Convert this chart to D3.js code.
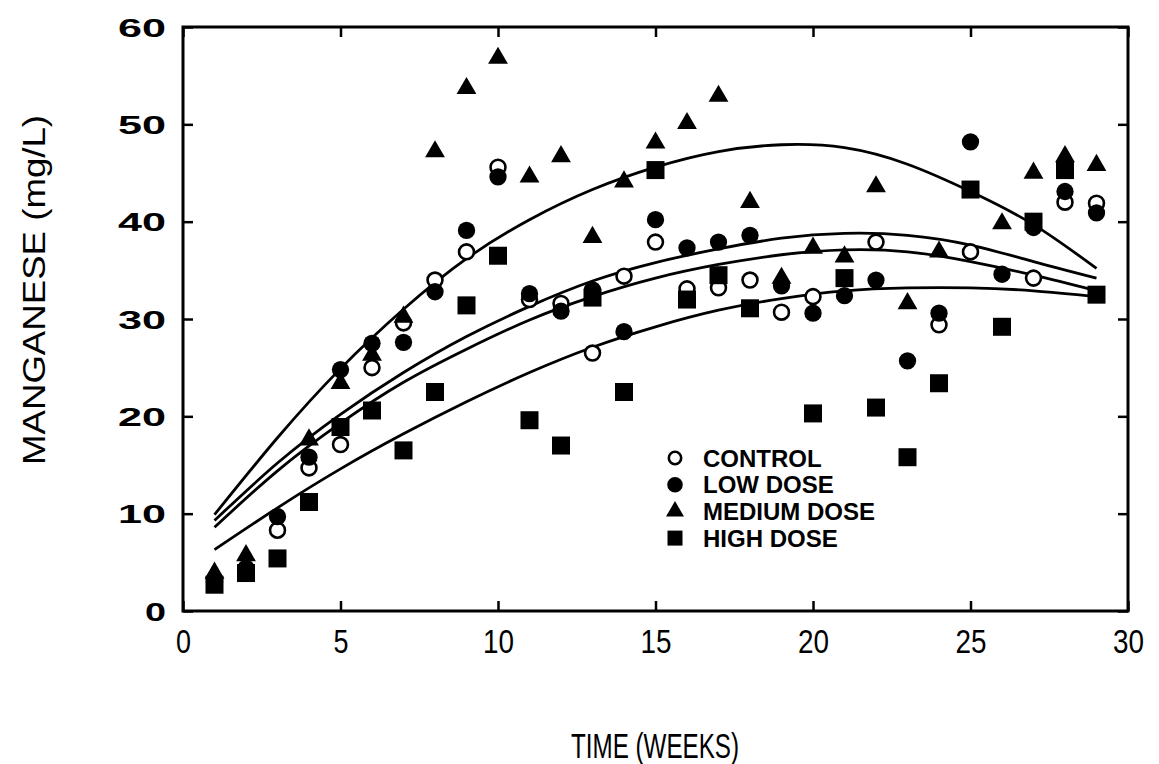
<!DOCTYPE html>
<meta charset="utf-8">
<style>

    body {
        margin: 0;
        background: #fff;
    }

    text {
        fill: #000;
        font-family: "Liberation Sans", Arial, sans-serif;
    }

    .axis path {
        display: none;
    }

    .axis line {
        stroke: #000;
        stroke-width: 2.5;
    }

    .frame {
        fill: none;
        stroke: #000;
        stroke-width: 3;
    }

    path.fit {
        fill: none;
        stroke: #000;
        stroke-width: 2.8;
    }

</style>
<body>
<script src="https://d3js.org/d3.v7.min.js"></script>
<script>
    var weeks = [1, 2, 3, 4, 5, 6, 7, 8, 9, 10, 11, 12, 13, 14, 15, 16, 17, 18, 19, 20, 21, 22, 23, 24, 25, 26, 27, 28, 29];

    // measured manganese, null where the marker is not visible
    var control = [3.0, 4.3, 8.3, 14.7, 17.1, 25.0, 29.6, 34.0, 36.9, 45.6, 32.0, 31.6, 26.5, 34.4, 37.9, 33.1, 33.2, 34.0, 30.7, 32.3, null, 37.9, null, 29.4, 36.9, null, 34.2, 42.0, 41.9];
    var lowDose = [3.2, 4.4, 9.7, 15.8, 24.8, 27.5, 27.6, 32.8, 39.1, 44.6, 32.6, 30.8, 33.0, 28.7, 40.2, 37.3, 37.9, 38.6, 33.4, 30.6, 32.4, 34.0, 25.7, 30.6, 48.2, 34.6, 39.4, 43.1, 40.9];
    var mediumDose = [3.9, 5.7, null, 17.6, 23.4, 26.3, 30.2, 47.2, 53.7, 56.8, 44.6, 46.7, 38.4, 44.1, 48.1, 50.1, 52.9, 42.0, 34.2, 37.3, 36.4, 43.6, 31.6, 36.9, null, 39.8, 45.0, 46.7, 45.8];
    var highDose = [2.7, 3.9, 5.4, 11.2, 18.9, 20.6, 16.5, 22.5, 31.4, 36.5, 19.6, 17.0, 32.2, 22.5, 45.3, 32.0, 34.5, 31.1, null, 20.3, 34.2, 20.9, 15.8, 23.4, 43.3, 29.2, 40.0, 45.3, 32.5];

    // fitted curves
    var fitWeeks = [1, 3, 5, 7, 9, 11, 13, 15, 17, 19, 21, 23, 25, 27, 29];
    var fitControl = [8.6, 14.4, 19.3, 23.5, 26.9, 29.9, 32.3, 34.2, 35.6, 36.6, 37.1, 36.9, 35.9, 34.5, 32.9];
    var fitLow = [9.3, 15.2, 20.2, 24.5, 28.2, 31.3, 33.9, 35.8, 37.2, 38.3, 38.8, 38.6, 37.6, 35.9, 34.2];
    var fitMedium = [9.9, 17.8, 24.9, 31.0, 36.2, 40.2, 43.3, 45.6, 47.2, 47.9, 47.6, 45.9, 43.1, 39.7, 35.2];
    var fitHigh = [6.3, 10.6, 14.6, 18.2, 21.5, 24.5, 27.1, 29.2, 30.9, 32.1, 32.9, 33.2, 33.2, 32.9, 32.3];

    var xTicks = [0, 5, 10, 15, 20, 25, 30];
    var yTicks = [0, 10, 20, 30, 40, 50, 60];
    var legendLabels = ["CONTROL", "LOW DOSE", "MEDIUM DOSE", "HIGH DOSE"];

    var width = 1159,
        height = 764;

    var x = d3.scaleLinear()
            .domain([0, 30])
            .range([183, 1128]);
    var y = d3.scaleLinear()
            .domain([0, 60])
            .range([611, 27]);

    var svg = d3.select("body").append("svg")
            .attr("width", width)
            .attr("height", height);

    // inward ticks on all four sides
    var bottomAxis = svg.append("g")
            .attr("class", "axis")
            .attr("transform", "translate(0," + y(0) + ")")
            .call(d3.axisBottom(x).tickValues(xTicks).tickSizeInner(-10).tickSizeOuter(0).tickPadding(0));
    bottomAxis.selectAll("text")
            .attr("y", 42)
            .attr("dy", null)
            .style("font-size", "34px")
            .each(function(d) {
                d3.select(this)
                        .attr("textLength", String(d).length > 1 ? 31 : 15)
                        .attr("lengthAdjust", "spacingAndGlyphs");
            });

    svg.append("g")
            .attr("class", "axis")
            .attr("transform", "translate(0," + y(60) + ")")
            .call(d3.axisTop(x).tickValues(xTicks).tickSizeInner(-10).tickSizeOuter(0).tickFormat(""));

    var leftAxis = svg.append("g")
            .attr("class", "axis")
            .attr("transform", "translate(" + x(0) + ",0)")
            .call(d3.axisLeft(y).tickValues(yTicks).tickSizeInner(-10).tickSizeOuter(0).tickPadding(17));
    leftAxis.selectAll("text")
            .attr("dy", "0.36em")
            .style("font-size", "25px")
            .style("font-weight", "bold")
            .each(function(d) {
                d3.select(this)
                        .attr("textLength", String(d).length > 1 ? 48 : 21)
                        .attr("lengthAdjust", "spacingAndGlyphs");
            });

    svg.append("g")
            .attr("class", "axis")
            .attr("transform", "translate(" + x(30) + ",0)")
            .call(d3.axisRight(y).tickValues(yTicks).tickSizeInner(-10).tickSizeOuter(0).tickFormat(""));

    svg.append("rect")
            .attr("class", "frame")
            .attr("x", x(0))
            .attr("y", y(60))
            .attr("width", x(30) - x(0))
            .attr("height", y(0) - y(60));

    svg.append("text")
            .attr("x", 655)
            .attr("y", 758)
            .attr("text-anchor", "middle")
            .attr("textLength", 168)
            .attr("lengthAdjust", "spacingAndGlyphs")
            .style("font-size", "35px")
            .text("TIME (WEEKS)");

    svg.append("text")
            .attr("transform", "translate(45,290) rotate(-90)")
            .attr("text-anchor", "middle")
            .attr("textLength", 350)
            .attr("lengthAdjust", "spacingAndGlyphs")
            .style("font-size", "31px")
            .text("MANGANESE (mg/L)");

    // fitted curves
    var line = d3.line()
            .x(function(d) { return x(d[0]); })
            .y(function(d) { return y(d[1]); })
            .curve(d3.curveNatural);

    [fitControl, fitLow, fitMedium, fitHigh].forEach(function(fit) {
        svg.append("path")
                .attr("class", "fit")
                .attr("d", line(fitWeeks.map(function(w, i) { return [w, fit[i]]; })));
    });

    // markers
    var series = [
        {name: "control", values: control, symbol: d3.symbolCircle, size: 175, fill: "#fff", stroke: 2.6},
        {name: "low", values: lowDose, symbol: d3.symbolCircle, size: 235, fill: "#000", stroke: 0},
        {name: "medium", values: mediumDose, symbol: d3.symbolTriangle, size: 170, fill: "#000", stroke: 0},
        {name: "high", values: highDose, symbol: d3.symbolSquare, size: 324, fill: "#000", stroke: 0}
    ];

    series.forEach(function(s) {
        var pts = weeks.map(function(w, i) { return [w, s.values[i]]; })
                .filter(function(d) { return d[1] !== null; });
        svg.append("g")
                .attr("class", "marks " + s.name)
            .selectAll("path")
                .data(pts)
            .enter().append("path")
                .attr("transform", function(d) { return "translate(" + x(d[0]) + "," + y(d[1]) + ")"; })
                .attr("d", d3.symbol().type(s.symbol).size(s.size))
                .attr("fill", s.fill)
                .attr("stroke", "#000")
                .attr("stroke-width", s.stroke);
    });

    // legend
    var legendSizes = [120, 190, 140, 225];
    var legend = svg.append("g")
            .attr("class", "legend")
            .attr("transform", "translate(675,458)");

    legendLabels.forEach(function(label, i) {
        var s = series[i];
        legend.append("path")
                .attr("transform", "translate(0," + (i * 26.7) + ")")
                .attr("d", d3.symbol().type(s.symbol).size(legendSizes[i]))
                .attr("fill", s.fill)
                .attr("stroke", "#000")
                .attr("stroke-width", s.stroke);
        legend.append("text")
                .attr("x", 28)
                .attr("y", i * 26.7 + 8.5)
                .style("font-size", "24px")
                .style("font-weight", "bold")
                .text(label);
    });

</script>
